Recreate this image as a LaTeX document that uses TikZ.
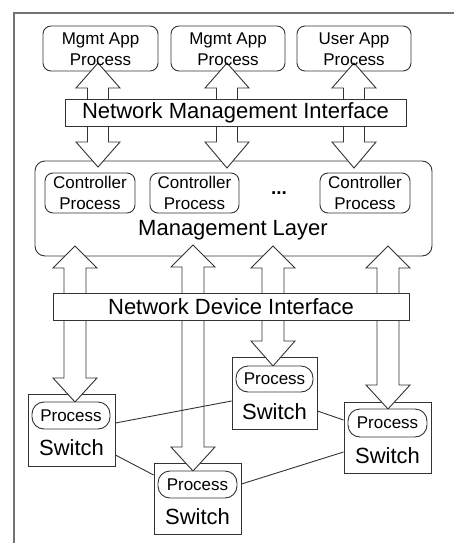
\documentclass[tikz,border=0pt]{standalone}
\usepackage{fontspec}
\setmainfont{Liberation Sans}
\begin{document}
\begin{tikzpicture}[x=1pt,y=-1pt,
  box/.style={draw=black!80, line width=0.9pt, fill=white, inner sep=0pt},
  rbox/.style={box, rounded corners=8pt},
  pill/.style={box, rounded corners=12pt},
  lbl/.style={font=\fontsize{17}{20.5}\selectfont, align=center, inner sep=0pt},
  big/.style={font=\fontsize{22}{26}\selectfont, inner sep=0pt},
  arr/.style={draw=black!80, line width=0.9pt, fill=white, line join=miter},
  link/.style={draw=black!80, line width=0.9pt}]
\useasboundingbox (0,0) rectangle (454,543);
\fill[white] (0,0) rectangle (454,543);
% frame
\draw[black!55, line width=2pt] (14,543) -- (14,13) -- (454,13);
\newcommand\dblarr[6]{%
  \draw[arr] (#1,#2) -- (#1+22,#3) -- (#1+#6,#3) -- (#1+#6,#4) -- (#1+22,#4) -- (#1,#5)
    -- (#1-22,#4) -- (#1-#6,#4) -- (#1-#6,#3) -- (#1-22,#3) -- cycle;}
% app boxes
\node[rbox, minimum width=115pt, minimum height=45pt] (app1) at (100.5,48.5) {};
\node[rbox, minimum width=114pt, minimum height=45pt] (app2) at (228,48.5) {};
\node[rbox, minimum width=114pt, minimum height=45pt] (app3) at (354,48.5) {};
% management layer
\node[box, rounded corners=10pt, minimum width=397pt, minimum height=95pt] (mgmt) at (233.5,208.5) {};
\node[rbox, minimum width=90pt, minimum height=40pt] (c1) at (90,193) {};
\node[rbox, minimum width=89pt, minimum height=40pt] (c2) at (194.5,193) {};
\node[rbox, minimum width=90pt, minimum height=40pt] (c3) at (365,193) {};
% switches
\node[box, minimum width=87pt, minimum height=72pt] (s1) at (71.5,430) {};
\node[box, minimum width=85pt, minimum height=72pt] (s2) at (274.5,393) {};
\node[box, minimum width=87pt, minimum height=71pt] (s3) at (387.5,437.5) {};
\node[box, minimum width=87pt, minimum height=71pt] (s4) at (197.5,498.5) {};
% arrows
\dblarr{98}{63}{88}{142}{167}{10.5}
\dblarr{227}{63}{88}{142}{168}{10.5}
\dblarr{354}{63}{88}{142}{168}{10.5}
\dblarr{75}{246}{268}{378}{402}{11}
\dblarr{193}{245}{267}{447}{471}{11}
\dblarr{273}{246}{268}{341}{366}{11}
\dblarr{388}{246}{268}{385}{409}{11}
% interfaces
\node[box, big, minimum width=341pt, minimum height=27pt] (nmi) at (235.5,112.5) {Network Management Interface};
\node[box, big, minimum width=356pt, minimum height=27pt] (ndi) at (231,306.5) {Network Device Interface};
% pills
\node[pill, lbl, minimum width=78pt, minimum height=27pt] (p1) at (71,415.5) {Process};
\node[pill, lbl, minimum width=77pt, minimum height=26pt] (p2) at (274.5,379) {Process};
\node[pill, lbl, minimum width=79pt, minimum height=28pt] (p3) at (387.5,423) {Process};
\node[pill, lbl, minimum width=79pt, minimum height=27pt] (p4) at (197.5,484.5) {Process};
% texts
\node[lbl] (t1) at (100.5,49) {Mgmt App\\Process};
\node[lbl] (t2) at (228,49) {Mgmt App\\Process};
\node[lbl] (t3) at (354,49) {User App\\Process};
\node[lbl] (tc1) at (90,193) {Controller\\Process};
\node[lbl] (tc2) at (194.5,193) {Controller\\Process};
\node[lbl] (tc3) at (365,193) {Controller\\Process};
\node[inner sep=0pt, font=\fontsize{19}{22}\selectfont\bfseries] (dots) at (279,193) {...};
\node[big] (tml) at (233,230) {Management Layer};
\node[big] (w1) at (71.5,448) {Switch};
\node[big] (w2) at (274.5,412) {Switch};
\node[big] (w3) at (387.5,456) {Switch};
\node[big] (w4) at (197.5,517) {Switch};
% links
\draw[link] ([yshift=7pt]s1.east) -- ([yshift=-8pt]s2.west);
\draw[link] ([yshift=-25pt]s1.east) -- ([yshift=23.5pt]s4.west);
\draw[link] ([yshift=-18pt]s2.east) -- ([yshift=17.5pt]s3.west);
\draw[link] ([yshift=14.5pt]s4.east) -- ([yshift=-14.5pt]s3.west);
\end{tikzpicture}
\end{document}
